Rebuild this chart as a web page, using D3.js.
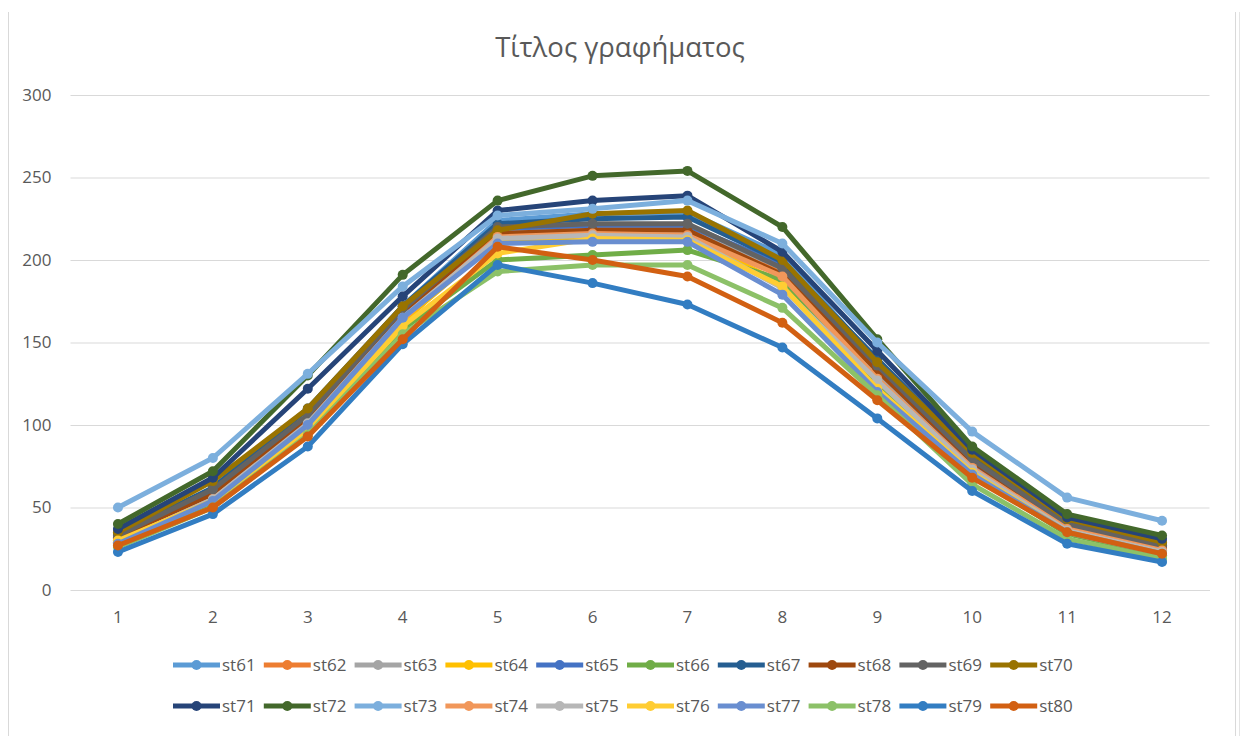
<!DOCTYPE html>
<html><head><meta charset="utf-8">
<script src="https://cdn.jsdelivr.net/npm/d3@7"></script>
<style>body{margin:0;background:#fff}svg{display:block}</style>
</head><body><svg id="c" width="1249" height="736"></svg>
<script>
const months = [1,2,3,4,5,6,7,8,9,10,11,12];
const yTicks = [0,50,100,150,200,250,300];
const seriesNames = ["st61","st62","st63","st64","st65","st66","st67","st68","st69","st70",
                     "st71","st72","st73","st74","st75","st76","st77","st78","st79","st80"];
const colors = ["#5B9BD5","#ED7D31","#A5A5A5","#FFC000","#4472C4","#70AD47","#255E91","#9E480E","#636363","#997300",
                "#264478","#43682B","#7CAFDD","#F1975A","#B7B7B7","#FFCD33","#698ED0","#8CC168","#327DC2","#D26012"];
const st61 = [32, 60, 108, 172, 224, 228, 229, 203, 138, 80, 40, 27];
const st62 = [28, 53, 98, 162, 216, 219, 219, 193, 130, 74, 37, 24];
const st63 = [31, 57, 103, 166, 218, 220, 220, 195, 132, 76, 38, 25];
const st64 = [30, 55, 100, 163, 212, 214, 214, 186, 126, 73, 36, 23];
const st65 = [30, 57, 104, 167, 219, 221, 221, 197, 134, 77, 38, 25];
const st66 = [27, 52, 95, 158, 200, 203, 206, 188, 125, 70, 34, 21];
const st67 = [34, 62, 110, 172, 222, 225, 226, 199, 140, 82, 42, 28];
const st68 = [31, 58, 104, 167, 216, 218, 218, 191, 133, 78, 39, 26];
const st69 = [33, 61, 106, 170, 220, 222, 222, 195, 136, 79, 40, 27];
const st70 = [35, 66, 110, 172, 218, 228, 230, 200, 138, 83, 43, 29];
const st71 = [37, 68, 122, 178, 230, 236, 239, 205, 145, 85, 44, 31];
const st72 = [40, 72, 130, 191, 236, 251, 254, 220, 152, 87, 46, 33];
const st73 = [50, 80, 131, 184, 227, 231, 236, 210, 150, 96, 56, 42];
const st74 = [29, 55, 100, 164, 214, 216, 215, 190, 128, 74, 37, 24];
const st75 = [29, 55, 101, 165, 213, 215, 214, 183, 127, 73, 36, 23];
const st76 = [30, 54, 97, 160, 204, 213, 212, 184, 122, 71, 35, 22];
const st77 = [28, 54, 100, 165, 210, 211, 211, 179, 120, 70, 35, 22];
const st78 = [26, 50, 94, 155, 193, 197, 197, 171, 118, 64, 31, 19];
const st79 = [23, 46, 87, 149, 197, 186, 173, 147, 104, 60, 28, 17];
const st80 = [27, 50, 93, 152, 208, 200, 190, 162, 115, 68, 35, 22];
const values = [st61,st62,st63,st64,st65,st66,st67,st68,st69,st70,st71,st72,st73,st74,st75,st76,st77,st78,st79,st80];

const svg = d3.select("#c");
const font = "'Open Sans', 'Noto Sans', sans-serif";
const txt = "#595959";
const pLeft = 70.5, pRight = 1209.5, pTop = 95, pBottom = 590;

// frame lines
svg.append("line").attr("x1",8.5).attr("x2",8.5).attr("y1",12).attr("y2",736).attr("stroke","#D9D9D9");
svg.append("line").attr("x1",1235.5).attr("x2",1235.5).attr("y1",12).attr("y2",736).attr("stroke","#D9D9D9");
svg.append("line").attr("x1",1239.5).attr("x2",1239.5).attr("y1",12).attr("y2",736).attr("stroke","#E4E4E4");

const x = d3.scaleBand().domain(months).range([pLeft, pRight]);
const y = d3.scaleLinear().domain([0,300]).range([pBottom, pTop]);

svg.append("text").attr("x",620).attr("y",57).attr("text-anchor","middle")
  .attr("font-family",font).attr("font-size",27.5).attr("fill",txt).text("Τίτλος γραφήματος");

const yAxis = svg.append("g").attr("transform",`translate(${pLeft},0)`)
  .call(d3.axisLeft(y).tickValues(yTicks).tickSize(-(pRight-pLeft)).tickPadding(19));
yAxis.select(".domain").remove();
yAxis.selectAll("line").attr("stroke","#D9D9D9").attr("stroke-width",1);
yAxis.selectAll("text").attr("font-family",font).attr("font-size",17).attr("fill",txt);

const xAxis = svg.append("g").attr("transform",`translate(0,${pBottom})`)
  .call(d3.axisBottom(x).tickSize(0).tickPadding(21));
xAxis.select(".domain").attr("stroke","#D9D9D9");
xAxis.selectAll("text").attr("font-family",font).attr("font-size",17).attr("fill",txt);

const cx = m => x(m) + x.bandwidth()/2;
const line = d3.line().x((d,i)=>cx(months[i])).y(d=>y(d));

seriesNames.forEach((name, s) => {
  const g = svg.append("g");
  g.append("path").attr("d", line(values[s])).attr("fill","none")
    .attr("stroke", colors[s]).attr("stroke-width",5).attr("stroke-linejoin","round").attr("stroke-linecap","round");
  g.selectAll("circle").data(values[s]).join("circle")
    .attr("cx",(d,i)=>cx(months[i])).attr("cy",d=>y(d)).attr("r",5).attr("fill",colors[s]);
});

// legend
const lg = svg.append("g");
seriesNames.forEach((name, s) => {
  const row = Math.floor(s/10), col = s%10;
  const lx = 173 + col*90.8, ly = 665 + row*41;
  lg.append("line").attr("x1",lx).attr("x2",lx+47).attr("y1",ly).attr("y2",ly)
    .attr("stroke",colors[s]).attr("stroke-width",5);
  lg.append("circle").attr("cx",lx+23.5).attr("cy",ly).attr("r",5).attr("fill",colors[s]);
  lg.append("text").attr("x",lx+49).attr("y",ly+6).attr("font-family",font)
    .attr("font-size",17).attr("fill",txt).text(name);
});
</script></body></html>
